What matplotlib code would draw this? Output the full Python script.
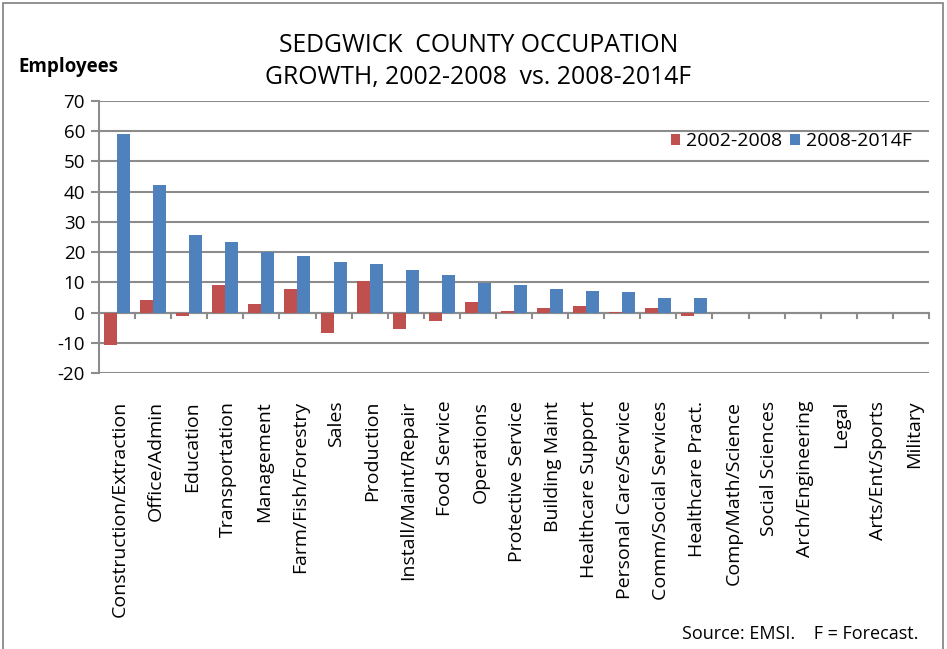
import matplotlib
matplotlib.use("Agg")
import matplotlib.pyplot as plt
import numpy as np
from matplotlib.patches import Rectangle

categories = ["Construction/Extraction", "Office/Admin", "Education", "Transportation",
              "Management", "Farm/Fish/Forestry", "Sales", "Production",
              "Install/Maint/Repair", "Food Service", "Operations", "Protective Service",
              "Building Maint", "Healthcare Support", "Personal Care/Service",
              "Comm/Social Services", "Healthcare Pract.", "Comp/Math/Science",
              "Social Sciences", "Arch/Engineering", "Legal", "Arts/Ent/Sports", "Military"]
growth_2002_2008 = [-10.7, 4.0, -1.1, 9.2, 2.8, 7.9, -6.8, 10.5, -5.5, -2.9, 3.4, 0.4,
                    1.4, 2.1, 0.3, 1.4, -1.1, 0, 0, 0, 0, 0, 0]
growth_2008_2014F = [59.0, 42.3, 25.8, 23.2, 20.1, 18.7, 16.8, 16.2, 14.2, 12.4, 9.8, 9.2,
                     7.9, 7.2, 6.7, 4.7, 4.7, 0, 0, 0, 0, 0, 0]
series_labels = ["2002-2008", "2008-2014F"]
yticks = [-20, -10, 0, 10, 20, 30, 40, 50, 60, 70]

plt.rcParams['font.family'] = ['Open Sans', 'DejaVu Sans']

fig = plt.figure(figsize=(9.47, 6.49), dpi=100)
ax = fig.add_axes([99/947, 1-373/649, (929-99)/947, (373-101)/649])

x = np.arange(len(categories))
w = 0.36
red = "#C0504D"
blue = "#4F81BD"
ax.bar(x - w/2, growth_2002_2008, w, color=red, linewidth=0,
       label=series_labels[0], zorder=3)
ax.bar(x + w/2, growth_2008_2014F, w, color=blue, linewidth=0,
       label=series_labels[1], zorder=3)

ax.set_xlim(-0.5, len(categories) - 0.5)
ax.set_ylim(-20, 70)
ax.set_yticks(yticks)
ax.set_yticklabels([str(t) for t in yticks], fontsize=13.5)
grid_c = "#8C8C8C"
ax.grid(axis="y", color=grid_c, linewidth=1.5, zorder=0)
ax.set_axisbelow(True)
for s in ["top", "right", "bottom"]:
    ax.spines[s].set_visible(False)
ax.spines["left"].set_color(grid_c)
ax.spines["left"].set_linewidth(1.5)
ax.tick_params(axis="y", length=6, width=1.5, color=grid_c, pad=4)

# category axis at zero
ax.axhline(0, color=grid_c, linewidth=1.5, zorder=2)
for b in np.arange(0.5, len(categories) - 0.5 + 1e-9, 1.0):
    ax.plot([b, b], [0, -1.9], color=grid_c, linewidth=1.5, zorder=2, clip_on=False)

ax.set_xticks([])
for i, c in enumerate(categories):
    ax.annotate(c, xy=(i, 0), xycoords=("data", "axes fraction"),
                xytext=(2, -20), textcoords="offset points",
                rotation=90, ha="center", va="top", fontsize=14, color="black")

leg = ax.legend(loc="upper right", bbox_to_anchor=(1.0, 0.95), frameon=False,
                ncol=2, fontsize=14, handlelength=0.5, handleheight=0.5,
                handletextpad=0.3, columnspacing=0.4)

fig.text(0.505, 0.93, "SEDGWICK  COUNTY OCCUPATION", ha="center", va="center", fontsize=17.8)
fig.text(0.505, 0.88, "GROWTH, 2002-2008  vs. 2008-2014F", ha="center", va="center", fontsize=17.8)
fig.text(18/947, 1-67/649, "Employees", ha="left", va="center", fontsize=13.5, fontweight="bold")
fig.text(918/947, 1-634/649, "Source: EMSI.    F = Forecast.", ha="right", va="center", fontsize=13)

fig.patches.append(Rectangle((3/947, -0.02), (943-3)/947, 1.0 - 3/649 + 0.02,
                             transform=fig.transFigure, fill=False,
                             edgecolor="#7F7F7F", linewidth=1.2))

fig.savefig("out.png", dpi=100)
